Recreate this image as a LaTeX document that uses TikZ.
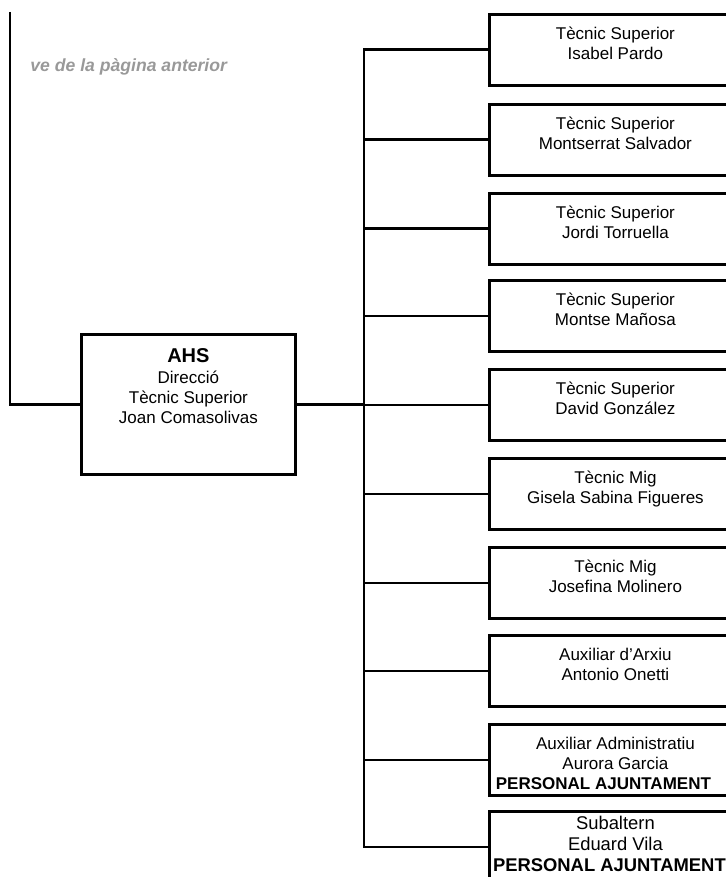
\documentclass[tikz,border=0pt]{standalone}
\usepackage{fontspec}
\setmainfont{Liberation Sans}
\newcommand{\cardtext}[2][12.4pt]{\parbox[t][35.5pt][t]{126pt}{\centering\rule{0pt}{#1}#2}}
\begin{document}
\begin{tikzpicture}
  [
    x=0.5pt,y=-0.5pt,
    member/.style={draw,line width=1.4pt,anchor=north west,inner sep=0pt,font=\fontsize{8.5}{10}\selectfont},
    link/.style={line width=1.4pt},
    note/.style={anchor=base west,inner sep=0pt,text=black!40,font=\fontsize{8.8}{10}\selectfont\bfseries\itshape},
  ]
  \useasboundingbox (0,0) rectangle (726,877);
  \clip (0,0) rectangle (726,877);
  \node (note) at (30,72) [note] {ve de la pàgina anterior};
  \node (ahs) at (80,333) [member] {\parbox[t][70pt][t]{107pt}{\centering\rule{0pt}{14pt}{\fontsize{10}{10}\selectfont\bfseries AHS}\\[0.5pt]Direcció\\Tècnic Superior\\Joan Comasolivas}};
  \node (m1) at (488,13) [member] {\cardtext{Tècnic Superior\\Isabel Pardo}};
  \node (m2) at (488,103) [member] {\cardtext{Tècnic Superior\\Montserrat Salvador}};
  \node (m3) at (488,192) [member] {\cardtext{Tècnic Superior\\Jordi Torruella}};
  \node (m4) at (488,279) [member] {\cardtext{Tècnic Superior\\Montse Mañosa}};
  \node (m5) at (488,368) [member] {\cardtext{Tècnic Superior\\David González}};
  \node (m6) at (488,457) [member] {\cardtext{Tècnic Mig\\Gisela Sabina Figueres}};
  \node (m7) at (488,546) [member] {\cardtext{Tècnic Mig\\Josefina Molinero}};
  \node (m8) at (488,634) [member] {\cardtext{Auxiliar d'Arxiu\\Antonio Onetti}};
  \node (m9) at (488,723) [member] {\cardtext{Auxiliar Administratiu\\Aurora Garcia\\\hspace*{-12pt}\textbf{PERSONAL AJUNTAMENT}}};
  \node (m10) at (488,810) [member,font=\fontsize{9.2}{10.5}\selectfont] {\cardtext[9pt]{Subaltern\\Eduard Vila\\\hspace*{-6pt}\textbf{PERSONAL AJUNTAMENT}}};
  % connectors
  \coordinate (prevpage) at (10,12);
  \coordinate (trunk) at (364,403);
  \draw [link] (prevpage) |- (ahs.west);
  \draw [link] (ahs.east) -- (ahs.east -| trunk);
  \draw [link] (m1.west) -| (trunk) |- (m10.west);
  \draw [link] (trunk |- m2.west) -- (m2.west);
  \draw [link] (trunk |- m3.west) -- (m3.west);
  \draw [link] (trunk |- m4.west) -- (m4.west);
  \draw [link] (trunk |- m5.west) -- (m5.west);
  \draw [link] (trunk |- m6.west) -- (m6.west);
  \draw [link] (trunk |- m7.west) -- (m7.west);
  \draw [link] (trunk |- m8.west) -- (m8.west);
  \draw [link] (trunk |- m9.west) -- (m9.west);
\end{tikzpicture}
\end{document}
